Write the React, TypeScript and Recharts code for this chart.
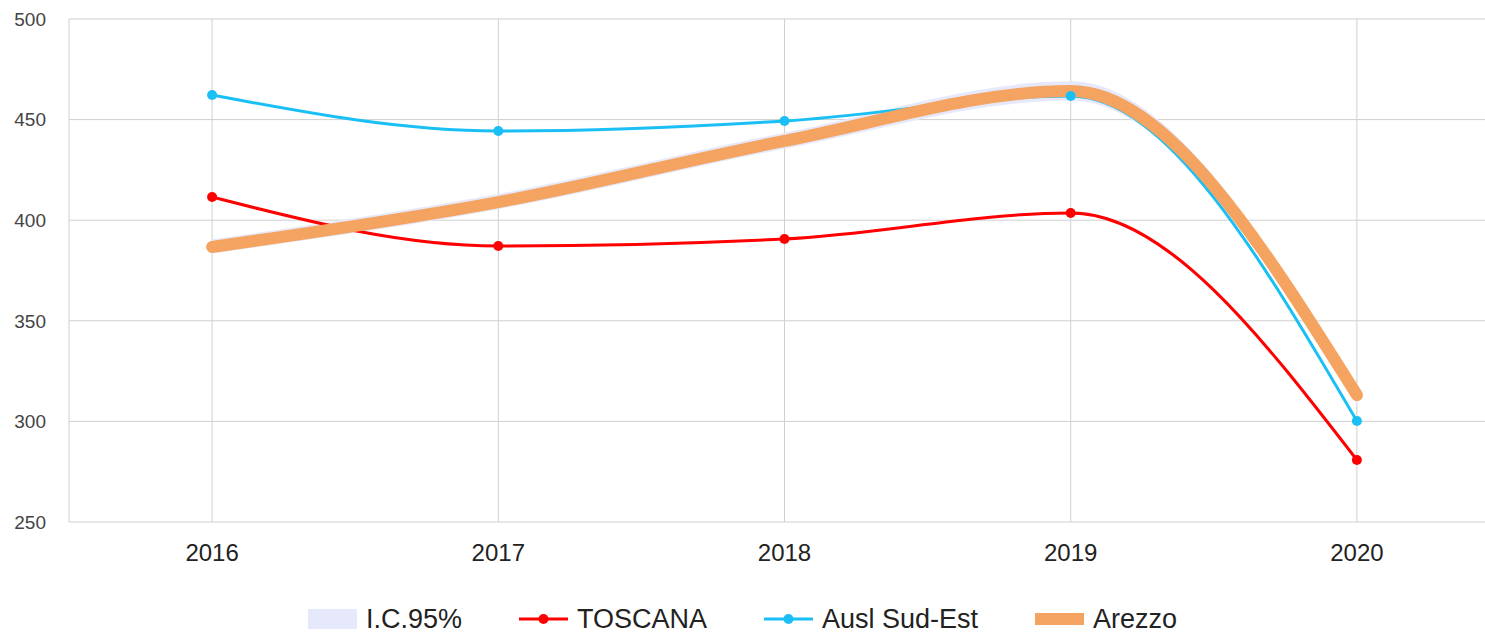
// Line chart: TOSCANA vs Ausl Sud-Est vs Arezzo with a 95% CI band around Arezzo.
// Plot runs slightly past the right edge of the window, as in the original.

import { Area, CartesianGrid, ComposedChart, Line, XAxis, YAxis } from 'recharts';

const years = [2016, 2017, 2018, 2019, 2020];
const toscana = [411.5, 387.2, 390.7, 403.6, 280.8];
const auslSudEst = [462.2, 444.3, 449.3, 461.7, 300.2];
const arezzo = [386.7, 409.0, 439.4, 464.2, 313.1];
const ciLow = [383.5, 405.5, 435.5, 459.5, 308.5];
const ciHigh = [390.5, 413.0, 443.5, 469.0, 318.0];
const yTicks = [250, 300, 350, 400, 450, 500];

const RED = '#ff0000';
const BLUE = '#1abff5';
const ORANGE = '#f4a460';
const CI_FILL = '#e6e9fb';
const FONT = '"Liberation Sans", Arial, sans-serif';

const data = years.map((year, i) => ({
  year,
  toscana: toscana[i],
  ausl: auslSudEst[i],
  arezzo: arezzo[i],
  ci: [ciLow[i], ciHigh[i]],
}));

function LegendItem({ kind, color, label }: { kind: 'box' | 'line'; color: string; label: string }) {
  return (
    <div style={{ display: 'flex', alignItems: 'center', gap: 9 }}>
      <svg width={49} height={20}>
        {kind === 'box' ? (
          <rect x={0} y={color === ORANGE ? 4 : 0} width={49} height={color === ORANGE ? 12 : 20} fill={color} />
        ) : (
          <>
            <line x1={0} y1={10} x2={49} y2={10} stroke={color} strokeWidth={3} />
            <circle cx={24.5} cy={10} r={5} fill={color} />
          </>
        )}
      </svg>
      <span>{label}</span>
    </div>
  );
}

export default function App() {
  return (
    <div
      style={{
        position: 'absolute',
        left: 0,
        top: 0,
        width: 1485,
        height: 634,
        overflow: 'hidden',
        background: '#fff',
        fontFamily: FONT,
      }}
    >
      <ComposedChart
        width={1510}
        height={634}
        data={data}
        margin={{ top: 19, right: 10, bottom: 0, left: 0 }}
      >
        <CartesianGrid stroke="#cfcfcf" strokeWidth={1} />
        <XAxis
          dataKey="year"
          type="number"
          domain={[2015.5, 2020.5]}
          ticks={years}
          axisLine={false}
          tickLine={false}
          tickSize={0}
          tickMargin={22}
          height={112}
          tick={{ fontSize: 24, fill: '#222', fontFamily: FONT }}
        />
        <YAxis
          domain={[250, 500]}
          ticks={yTicks}
          axisLine={false}
          tickLine={false}
          tickSize={0}
          tickMargin={23}
          width={69}
          tick={{ fontSize: 19, fill: '#444', fontFamily: FONT }}
        />
        <Area
          dataKey="ci"
          type="monotone"
          stroke="none"
          fill={CI_FILL}
          fillOpacity={1}
          isAnimationActive={false}
        />
        <Line
          dataKey="toscana"
          type="monotone"
          stroke={RED}
          strokeWidth={3}
          dot={{ r: 5, fill: RED, stroke: RED, strokeWidth: 0 }}
          isAnimationActive={false}
        />
        <Line
          dataKey="ausl"
          type="monotone"
          stroke={BLUE}
          strokeWidth={3}
          dot={{ r: 5, fill: BLUE, stroke: BLUE, strokeWidth: 0 }}
          isAnimationActive={false}
        />
        <Line
          dataKey="arezzo"
          type="monotone"
          stroke={ORANGE}
          strokeWidth={12}
          strokeLinecap="round"
          dot={false}
          isAnimationActive={false}
        />
      </ComposedChart>
      <div
        style={{
          position: 'absolute',
          left: 0,
          top: 605,
          width: 1485,
          display: 'flex',
          justifyContent: 'center',
          gap: 57,
          fontSize: 27,
          color: '#222',
          lineHeight: '28px',
        }}
      >
        <LegendItem kind="box" color={CI_FILL} label="I.C.95%" />
        <LegendItem kind="line" color={RED} label="TOSCANA" />
        <LegendItem kind="line" color={BLUE} label="Ausl Sud-Est" />
        <LegendItem kind="box" color={ORANGE} label="Arezzo" />
      </div>
    </div>
  );
}
